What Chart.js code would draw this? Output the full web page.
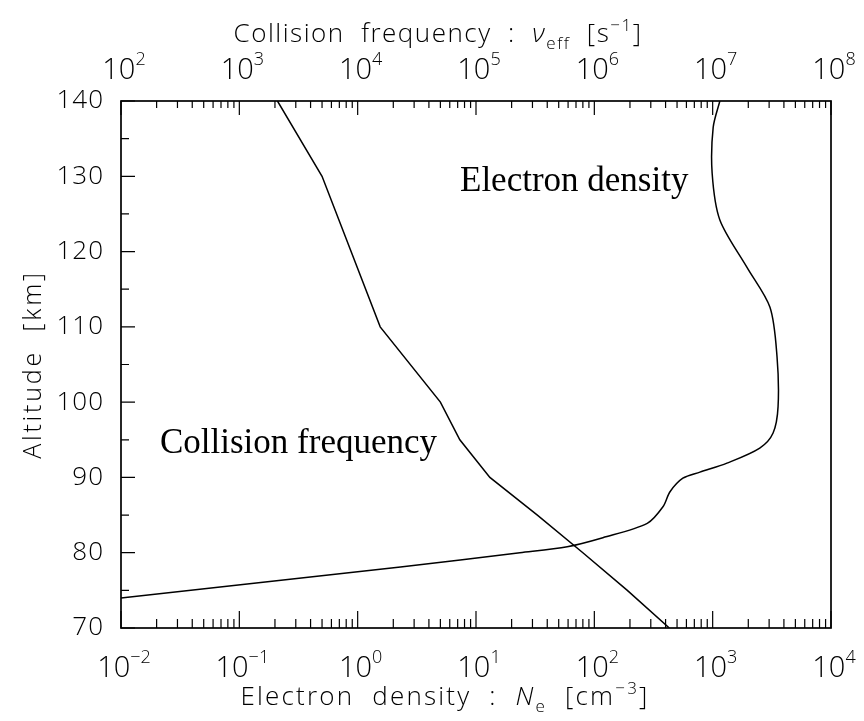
<!DOCTYPE html>
<html>
<head>
<meta charset="utf-8">
<script src="https://cdn.jsdelivr.net/npm/chart.js@4.4.1/dist/chart.umd.min.js"></script>
<style>
  html, body { margin: 0; padding: 0; background: #fff; }
  #wrap { width: 864px; height: 721px; }
</style>
</head>
<body>
<div id="wrap"><canvas id="myChart" width="864" height="721"></canvas></div>
<script>
// Collision frequency profile (top axis, s^-1)
const collisionAlt = [140, 130, 110, 100, 95, 90, 85, 80, 75, 70];
const collisionFreq = [2.1e3, 5.0e3, 1.55e4, 5.0e4, 7.3e4, 1.31e5, 3.3e5, 8.0e5, 1.9e6, 4.3e6];

// Electron density profile (bottom axis, cm^-3)
const densityAlt = [74.0, 78.1, 80.0, 80.8, 82.0, 83.9, 86.1, 88.1, 89.9, 90.7, 91.9, 93.9, 95.9, 99.4, 106.0, 112.6, 117.9, 124.2, 130.4, 136.5, 140];
const densityVal = [0.01, 2.3, 23.5, 59, 118, 280, 380, 436, 560, 780, 1320, 2500, 3240, 3570, 3500, 3050, 1950, 1150, 990, 1010, 1150];

// axis ranges and labelled decades
const densityExp = [-2, -1, 0, 1, 2, 3, 4];
const freqExp = [2, 3, 4, 5, 6, 7, 8];
const altTicks = [70, 80, 90, 100, 110, 120, 130, 140];

const SANS = '"Open Sans", "DejaVu Sans", sans-serif';
const SERIF = '"Liberation Serif", "Times New Roman", serif';
const f = (size, extra) => (extra || '300') + ' ' + size + 'px ' + SANS;

// draws a run of text pieces (for super/subscripts) side by side
function drawParts(ctx, parts, x, y, align, spacing) {
  ctx.letterSpacing = (spacing || 0) + 'px';
  let total = 0;
  parts.forEach(p => { ctx.font = p.font; p.w = ctx.measureText(p.t).width; total += p.w; });
  let cx = align === 'center' ? x - total / 2 : (align === 'right' ? x - total : x);
  ctx.textAlign = 'left';
  ctx.textBaseline = 'alphabetic';
  parts.forEach(p => { ctx.font = p.font; ctx.fillText(p.t, cx, y + (p.dy || 0)); cx += p.w; });
  ctx.letterSpacing = '0px';
}

function powerLabel(e) {
  const s = e < 0 ? '\u2212' + (-e) : String(e);
  return [{ t: '10', font: f(29) }, { t: s, font: f(18), dy: -14 }];
}

function logTicks(exps) {
  const out = [];
  exps.forEach((e, i) => {
    out.push({ v: Math.pow(10, e), major: true });
    if (i < exps.length - 1) {
      for (let k = 2; k <= 9; k++) out.push({ v: k * Math.pow(10, e), major: false });
    }
  });
  return out;
}

const framePlugin = {
  id: 'framedAxes',
  afterDatasetsDraw(chart) {
    const { ctx, chartArea: a, scales } = chart;
    ctx.save();
    ctx.strokeStyle = '#000';
    ctx.fillStyle = '#000';
    ctx.lineWidth = 1.7;
    ctx.strokeRect(a.left, a.top, a.right - a.left, a.bottom - a.top);

    ctx.lineWidth = 1.2;
    ctx.beginPath();
    // bottom axis ticks
    logTicks(densityExp).forEach(t => {
      const x = scales.x.getPixelForValue(t.v);
      ctx.moveTo(x, a.bottom);
      ctx.lineTo(x, a.bottom - (t.major ? 17 : 9));
    });
    // top axis ticks
    logTicks(freqExp).forEach(t => {
      const x = scales.xTop.getPixelForValue(t.v);
      ctx.moveTo(x, a.top);
      ctx.lineTo(x, a.top + (t.major ? 14 : 7));
    });
    // altitude ticks every 5 km
    for (let v = 70; v <= 140; v += 5) {
      const y = scales.y.getPixelForValue(v);
      ctx.moveTo(a.left, y);
      ctx.lineTo(a.left + (v % 10 === 0 ? 14 : 8), y);
    }
    ctx.stroke();

    // decade labels
    densityExp.forEach(e => {
      drawParts(ctx, powerLabel(e), scales.x.getPixelForValue(Math.pow(10, e)) + 3, 677, 'center');
    });
    freqExp.forEach(e => {
      drawParts(ctx, powerLabel(e), scales.xTop.getPixelForValue(Math.pow(10, e)) + 3, 79, 'center');
    });

    // altitude labels
    ctx.font = f(26);
    ctx.textAlign = 'right';
    ctx.textBaseline = 'middle';
    ctx.letterSpacing = '1px';
    altTicks.forEach(v => ctx.fillText(String(v), 104, scales.y.getPixelForValue(v)));
    ctx.letterSpacing = '0px';

    // axis titles
    drawParts(ctx, [
      { t: 'Electron  density  :  ', font: f(26) },
      { t: 'N', font: f(26, 'italic 300') },
      { t: 'e', font: f(17), dy: 7 },
      { t: '  [cm', font: f(26) },
      { t: '\u22123', font: f(17), dy: -11 },
      { t: ']', font: f(26) }
    ], 445, 705, 'center', 2.2);
    drawParts(ctx, [
      { t: 'Collision  frequency  :  ', font: f(26) },
      { t: '\u03bd', font: f(26, 'italic 300') },
      { t: 'eff', font: f(17), dy: 7 },
      { t: '  [s', font: f(26) },
      { t: '\u22121', font: f(17), dy: -11 },
      { t: ']', font: f(26) }
    ], 438, 42, 'center', 1.5);

    ctx.save();
    ctx.translate(32, (a.top + a.bottom) / 2);
    ctx.rotate(-Math.PI / 2);
    drawParts(ctx, [{ t: 'Altitude  [km]', font: f(25) }], 0, 9, 'center', 2.8);
    ctx.restore();

    // curve names
    ctx.font = '35px ' + SERIF;
    ctx.textBaseline = 'alphabetic';
    ctx.textAlign = 'left';
    ctx.fillText('Electron density', 460, scales.y.getPixelForValue(128));
    ctx.textAlign = 'right';
    ctx.fillText('Collision frequency', 437, scales.y.getPixelForValue(93.2));
    ctx.restore();
  }
};

const ctx = document.getElementById('myChart');

const data = {
  datasets: [{
    label: 'Collision frequency',
    data: collisionAlt.map((a, i) => ({ x: collisionFreq[i], y: a })),
    xAxisID: 'xTop',
    yAxisID: 'y',
    showLine: true,
    pointRadius: 0,
    borderColor: '#000',
    borderWidth: 1.5,
    tension: 0
  }, {
    label: 'Electron density',
    data: densityAlt.map((a, i) => ({ x: densityVal[i], y: a })),
    xAxisID: 'x',
    yAxisID: 'y',
    showLine: true,
    pointRadius: 0,
    borderColor: '#000',
    borderWidth: 1.5,
    tension: 0.3
  }]
};

new Chart(ctx, {
  type: 'scatter',
  data: data,
  plugins: [framePlugin],
  options: {
    responsive: false,
    animation: false,
    layout: { padding: { left: 121, right: 33, top: 101, bottom: 93 } },
    plugins: { legend: { display: false }, tooltip: { enabled: false } },
    scales: {
      x: { type: 'logarithmic', position: 'bottom', min: 1e-2, max: 1e4, display: false },
      xTop: { type: 'logarithmic', position: 'top', min: 1e2, max: 1e8, display: false },
      y: { type: 'linear', min: 70, max: 140, display: false }
    }
  }
});
</script>
</body>
</html>
